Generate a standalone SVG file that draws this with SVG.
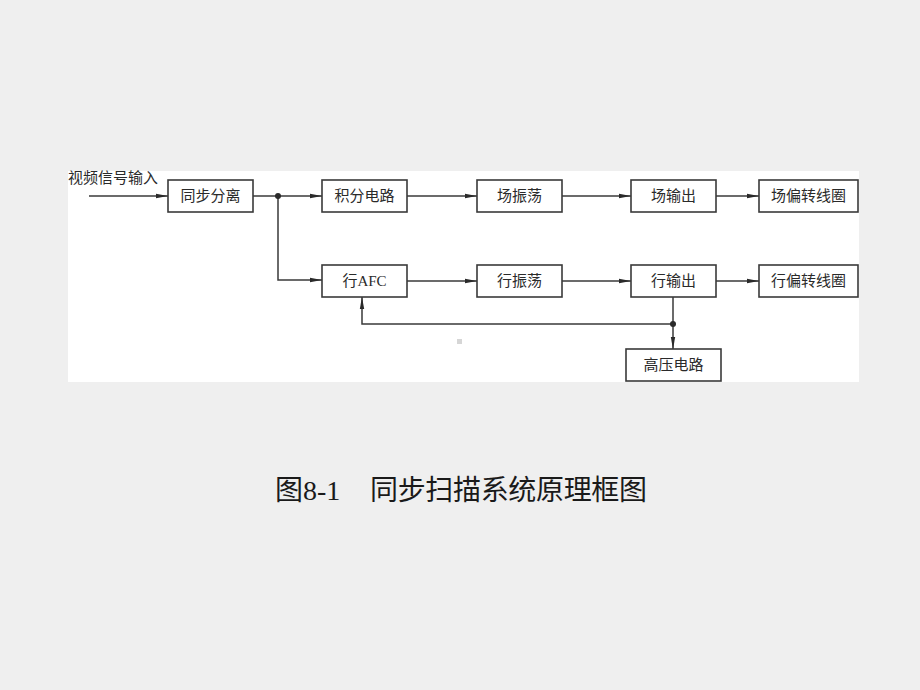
<svg xmlns="http://www.w3.org/2000/svg" width="920" height="690" viewBox="0 0 920 690">
<defs>
<style>
.box{fill:#ffffff;stroke:#3a3a3a;stroke-width:1.6}
.lbl{font-family:"Liberation Serif","Noto Sans CJK SC",serif;font-size:15px;fill:#2a2a2a;text-anchor:middle;dominant-baseline:central}
.ln{fill:none;stroke:#3a3a3a;stroke-width:1.5}
.cap{font-family:"Liberation Serif","Noto Sans CJK SC",serif;font-size:28px;fill:#1a1a1a;dominant-baseline:central}
</style>
<marker id="ar" viewBox="0 0 12 6" refX="12" refY="3" markerWidth="12" markerHeight="6" markerUnits="userSpaceOnUse" orient="auto">
<path d="M0,0.8 L12,3 L0,5.2 Z" fill="#2a2a2a"/>
</marker>
</defs>
<rect x="0" y="0" width="920" height="690" fill="#efefef"/>
<rect x="68" y="171" width="791" height="211" fill="#ffffff"/>
<rect x="457" y="339" width="5" height="5" fill="#d6d6d6"/>
<text x="68" y="178" class="lbl" style="text-anchor:start">视频信号输入</text>
<g id="connectors">
<line class="ln" x1="89" y1="196" x2="168" y2="196" marker-end="url(#ar)"/>
<line class="ln" x1="253" y1="196" x2="322" y2="196" marker-end="url(#ar)"/>
<polyline class="ln" points="278,196 278,280 322,280" marker-end="url(#ar)"/>
<circle cx="278" cy="196" r="3" fill="#2a2a2a"/>
<line class="ln" x1="407" y1="196" x2="477" y2="196" marker-end="url(#ar)"/>
<line class="ln" x1="562" y1="196" x2="631" y2="196" marker-end="url(#ar)"/>
<line class="ln" x1="716" y1="196" x2="759" y2="196" marker-end="url(#ar)"/>
<line class="ln" x1="407" y1="281" x2="477" y2="281" marker-end="url(#ar)"/>
<line class="ln" x1="562" y1="281" x2="631" y2="281" marker-end="url(#ar)"/>
<line class="ln" x1="716" y1="281" x2="759" y2="281" marker-end="url(#ar)"/>
<line class="ln" x1="673" y1="297" x2="673" y2="349" marker-end="url(#ar)"/>
<polyline class="ln" points="673,324 362,324 362,297" marker-end="url(#ar)"/>
<circle cx="673" cy="324" r="3" fill="#2a2a2a"/>
</g>
<g id="n1"><rect class="box" x="168" y="180" width="85" height="32"/><text class="lbl" x="210.5" y="196">同步分离</text></g>
<g id="n2"><rect class="box" x="322" y="180" width="85" height="32"/><text class="lbl" x="364.5" y="196">积分电路</text></g>
<g id="n3"><rect class="box" x="477" y="180" width="85" height="32"/><text class="lbl" x="519.5" y="196">场振荡</text></g>
<g id="n4"><rect class="box" x="631" y="180" width="85" height="32"/><text class="lbl" x="673.5" y="196">场输出</text></g>
<g id="n5"><rect class="box" x="759" y="180" width="99" height="32"/><text class="lbl" x="808.5" y="196">场偏转线圈</text></g>
<g id="n6"><rect class="box" x="322" y="265" width="85" height="32"/><text class="lbl" x="364.5" y="281">行AFC</text></g>
<g id="n7"><rect class="box" x="477" y="265" width="85" height="32"/><text class="lbl" x="519.5" y="281">行振荡</text></g>
<g id="n8"><rect class="box" x="631" y="265" width="85" height="32"/><text class="lbl" x="673.5" y="281">行输出</text></g>
<g id="n9"><rect class="box" x="759" y="265" width="99" height="32"/><text class="lbl" x="808.5" y="281">行偏转线圈</text></g>
<g id="n10"><rect class="box" x="626" y="349" width="95" height="32"/><text class="lbl" x="673.5" y="365">高压电路</text></g>
<text class="cap" x="275" y="490">图8-1</text>
<text class="cap" x="370" y="490" textLength="277">同步扫描系统原理框图</text>
</svg>
